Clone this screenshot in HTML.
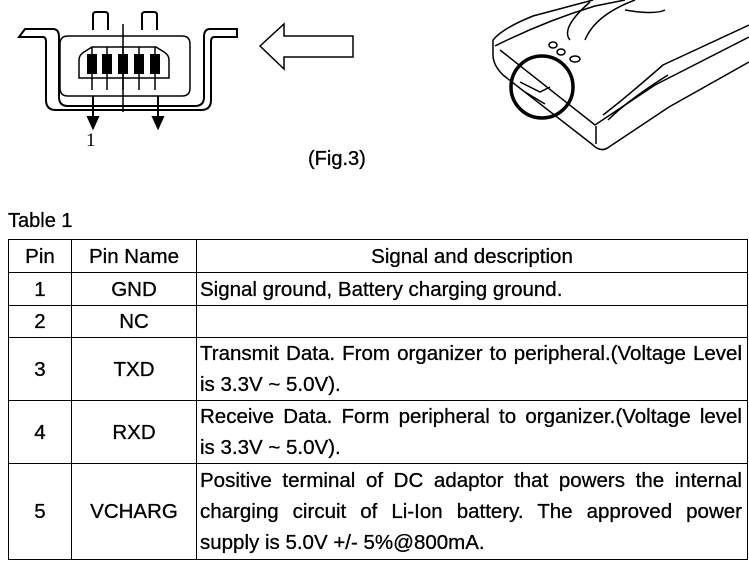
<!DOCTYPE html>
<html><head><meta charset="utf-8"><style>
body{margin:0;width:749px;height:567px;background:#fff;position:relative;overflow:hidden;font-family:"Liberation Sans",Arial,sans-serif;color:#000}
.t{position:absolute;font-size:20px;-webkit-text-stroke:0.3px #000}
table{position:absolute;left:8px;top:239px;border-collapse:collapse;font-size:20.5px;table-layout:fixed;-webkit-text-stroke:0.3px #000}
td{border:1.5px solid #000;padding:0 3px;line-height:31px;vertical-align:middle;white-space:nowrap;overflow:hidden}
td.c{text-align:center}
.l{text-align:justify;text-align-last:justify;padding:0 2px 0 0}
.e{text-align:left}
</style></head><body>
<svg width="749" height="200" style="position:absolute;left:0;top:0" fill="none" stroke="#000" stroke-width="2">
<path d="M93 30 v-15 q0 -3 3 -3 h9 q3 0 3 3 v15 M142 30 v-15 q0 -3 3 -3 h9 q3 0 3 3 v15"/>
<path d="M25 29 h28 q6 0 6 8 v60 q0 9 9 9 h127 q9 0 9 -9 v-60 q0 -8 6 -8 h27 v8 h-23 q-3 0 -3 5 v58 q0 10 -10 10 h-145 q-10 0 -10 -10 v-58 q0 -5 -3 -5 h-24 z"/>
<path d="M60 44 q0 -8 8 -8 h114 q8 0 8 8 v44 q0 8 -8 8 h-114 q-8 0 -8 -8 z" stroke-width="1.5"/>
<path d="M79 78 v-18 q0 -5 5 -8 l8 -5 h64 l8 5 q5 3 5 8 v18 z" stroke-width="1.5"/>
<g fill="#000"><rect x="88" y="55" width="8" height="18"/><rect x="103" y="55" width="8" height="18"/><rect x="119" y="55" width="8" height="18"/><rect x="135" y="55" width="8" height="18"/><rect x="151" y="55" width="8" height="18"/></g>
<path d="M92 47 v43 M107 47 v43 M123 47 v43 M139 47 v43 M155 47 v43" stroke-width="1.5"/>
<path d="M123 24 v88" stroke-width="1.5"/>
<path d="M93 96 v22 M158 96 v22"/>
<path d="M88 117 l5 11 l5 -11 z M153 117 l5 11 l5 -11 z" fill="#000"/>
<path d="M260 46 l24 -22 v12 h69 v21 h-69 v12 z" stroke-width="1.5"/>
<g stroke-width="1.5">
<path d="M493 40 q10 -12 40 -24 l60 -16 M495 46 q50 -25 100 -40 l30 -6"/>
<path d="M493 40 v15 q0 10 10 20 l90 70 q8 8 16 2 l60 -40 l80 -45"/>
<path d="M500 50 l95 75 l60 -40 l94 -48 M596 126 v18"/>
<path d="M570 40 q-10 -12 20 -38 M585 40 q10 -25 50 -40 M625 10 q30 5 40 0"/>
<path d="M603 115 q20 -15 60 -50 l86 -40 M608 120 q20 -20 60 -45"/>
<ellipse cx="553" cy="45" rx="4" ry="3"/><ellipse cx="561" cy="52" rx="4" ry="3"/><ellipse cx="575" cy="59" rx="5" ry="3"/>
<path d="M520 82 l20 10 l10 -5 M525 92 l20 12"/>
</g>
<circle cx="542" cy="87" r="31" stroke-width="3.5"/>
</svg>
<div class="t" style="left:86px;top:130px;font-family:'Liberation Serif',serif;font-size:19px;-webkit-text-stroke:0">1</div>
<div class="t" style="left:308px;top:148px">(Fig.3)</div>
<div class="t" style="left:8px;top:210px">Table 1</div>
<table>
<colgroup><col style="width:63px"><col style="width:125px"><col style="width:551px"></colgroup>
<tr style="height:33px"><td class="c">Pin</td><td class="c">Pin Name</td><td class="c">Signal and description</td></tr>
<tr style="height:33px"><td class="c">1</td><td class="c">GND</td><td>Signal ground, Battery charging ground.</td></tr>
<tr style="height:32px"><td class="c">2</td><td class="c">NC</td><td></td></tr>
<tr style="height:62px"><td class="c">3</td><td class="c">TXD</td><td><div class="l">Transmit Data. From organizer to peripheral.(Voltage Level</div><div class="e">is 3.3V ~ 5.0V).</div></td></tr>
<tr style="height:62px"><td class="c">4</td><td class="c">RXD</td><td><div class="l">Receive Data. Form peripheral to organizer.(Voltage level</div><div class="e">is 3.3V ~ 5.0V).</div></td></tr>
<tr style="height:96px"><td class="c">5</td><td class="c">VCHARG</td><td><div class="l">Positive terminal of DC adaptor that powers the internal</div><div class="l">charging circuit of Li-Ion battery. The approved power</div><div class="e">supply is 5.0V +/- 5%@800mA.</div></td></tr>
</table>
</body></html>
